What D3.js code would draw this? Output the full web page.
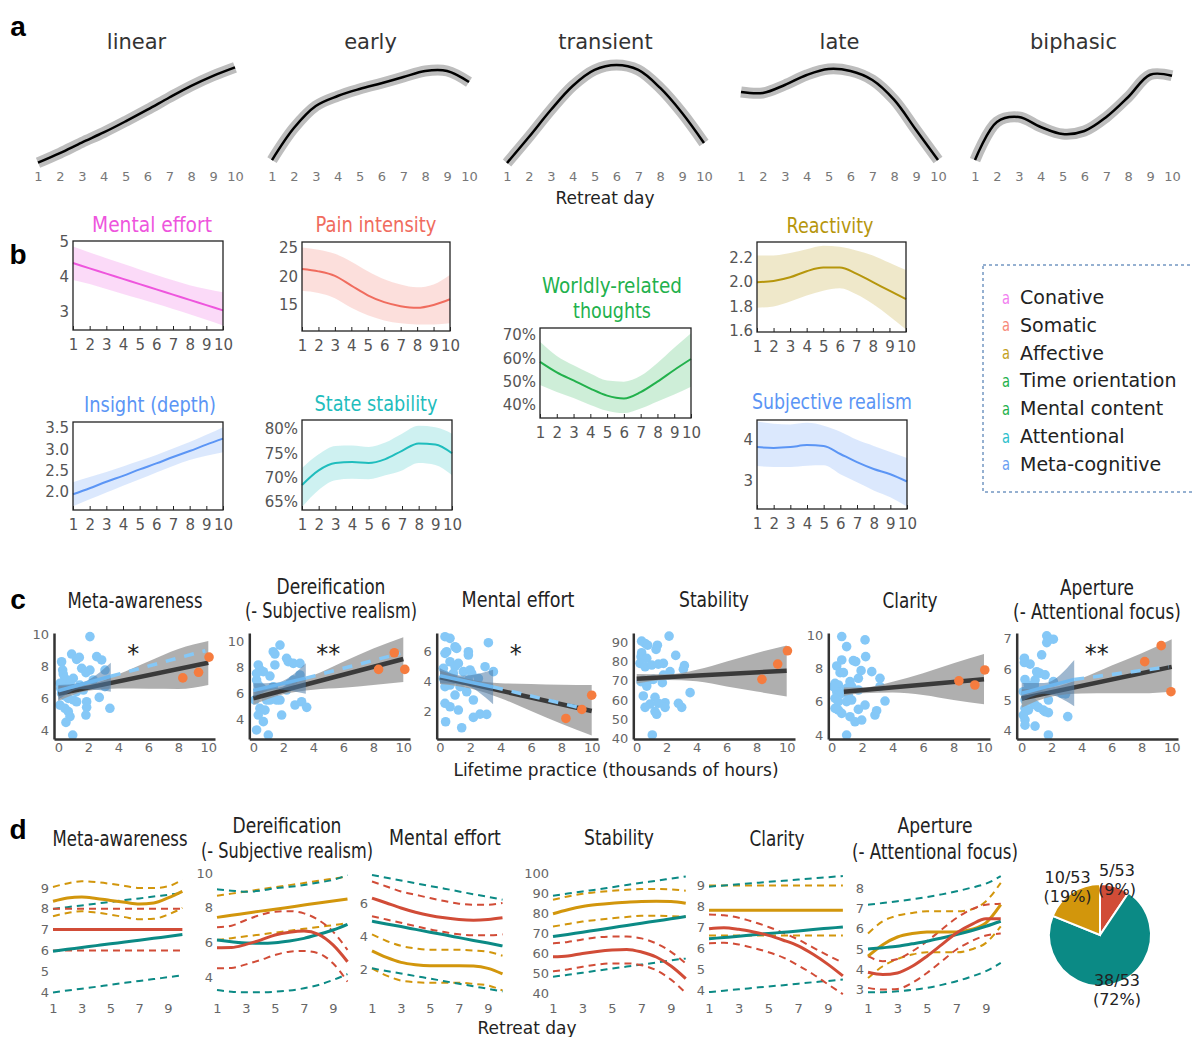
<!DOCTYPE html>
<html><head><meta charset="utf-8">
<script src="https://cdn.jsdelivr.net/npm/d3@7"></script>
<style>body{margin:0;background:#fff}</style>
</head><body><script>
// ================= DATA =================
const DAYS = [1,2,3,4,5,6,7,8,9,10];
// Panel a (normalised trajectory shapes)
const aTitles = ["linear","early","transient","late","biphasic"];
const aLinear = [0.05,0.14,0.24,0.335,0.44,0.55,0.665,0.775,0.87,0.95];
const aEarly = [0.075,0.377,0.585,0.679,0.745,0.80,0.858,0.915,0.915,0.811];
const aTransient = [0.047,0.292,0.547,0.774,0.925,0.972,0.925,0.755,0.519,0.236];
const aLate = [0.717,0.708,0.783,0.877,0.934,0.915,0.83,0.642,0.358,0.075];
const aBiphasic = [0.075,0.434,0.481,0.387,0.321,0.349,0.481,0.67,0.88,0.87];

// Panel b
const bMentalMean = [4.4,4.25,4.1,3.95,3.8,3.65,3.5,3.35,3.2,3.05];
const bMentalHi = [4.87,4.7,4.54,4.38,4.22,4.06,3.91,3.77,3.66,3.57];
const bMentalLo = [3.92,3.8,3.66,3.52,3.38,3.24,3.09,2.94,2.78,2.62];
const bPainMean = [21.3,20.9,20.1,18.4,16.7,15.5,14.8,14.5,15,16];
const bPainHi = [25.1,24.7,24,22.6,20.9,19.5,18.6,18.1,18.6,20.3];
const bPainLo = [17.5,17.1,16.2,14.5,13.2,12.3,11.8,11.6,11.6,11.8];
const bInsightMean = [1.95,2.09,2.24,2.38,2.53,2.67,2.82,2.96,3.11,3.25];
const bInsightHi = [2.23,2.35,2.47,2.6,2.73,2.87,3.02,3.17,3.34,3.52];
const bInsightLo = [1.67,1.83,1.99,2.15,2.3,2.46,2.61,2.75,2.85,2.93];
const bStateMean = [68.5,71.5,73,73.2,73,73.8,75.5,77,76.8,75];
const bStateHi = [72,74.8,76.5,76.6,76.3,77.2,79,80.6,80.3,79];
const bStateLo = [64,67.5,69.5,69.8,69.7,70.5,71.5,73,72.6,70.5];
const bWorldlyMean = [58.5,54,50.5,47,44,42.8,45.5,50,55,59.7];
const bWorldlyHi = [67.1,61,57,53.5,50.5,50,52.5,58,64.5,70.7];
const bWorldlyLo = [48.5,45.5,43,40,37.5,36.5,38.5,41.5,44.5,47.8];
const bReactMean = [2.0,2.01,2.04,2.09,2.12,2.12,2.07,2.0,1.93,1.86];
const bReactHi = [2.22,2.22,2.24,2.27,2.3,2.29,2.26,2.22,2.16,2.1];
const bReactLo = [1.79,1.8,1.84,1.89,1.93,1.95,1.9,1.82,1.72,1.61];
const bSubjMean = [3.82,3.8,3.82,3.87,3.85,3.65,3.45,3.28,3.15,2.97];
const bSubjHi = [4.45,4.4,4.38,4.42,4.35,4.2,4.0,3.85,3.7,3.55];
const bSubjLo = [3.35,3.33,3.33,3.36,3.37,3.15,2.95,2.75,2.58,2.35];
const legendLabels = ["Conative","Somatic","Affective","Time orientation","Mental content","Attentional","Meta-cognitive"];

// Panel c: scatter [hours (thousands), score]
const cMetaBlue = [[2.11,9.88],[0.22,8.31],[0.89,8.79],[1.22,8.46],[1.4,8.58],[2.56,8.63],[2.89,8.42],[1.56,7.9],[2.11,7.79],[1.84,7.63],[0.29,7.79],[0.33,7.54],[0.44,7.27],[3.11,7.79],[0.78,6.96],[0.11,6.96],[0.56,6.75],[1.44,6.85],[3.11,6.75],[1.22,6.44],[0.22,6.33],[0.44,6.17],[1.89,5.81],[1.89,5.46],[1.84,4.98],[2.73,6.08],[3.44,5.4],[0.11,5.6],[0.44,5.4],[0.67,5.19],[0.78,4.88],[0.51,4.52],[0.96,3.73],[1.0,5.92],[1.22,5.81],[1.67,6.54],[0.67,6.02],[0.16,6.65],[1.0,7.27],[2.33,7.17]];
const cMetaOrange = [[8.3,7.3],[9.35,7.65],[10.05,8.6]];
const cDerBlue = [[1.78,9.74],[1.33,9.23],[1.44,9.05],[2.22,8.72],[2.33,8.46],[2.67,8.33],[3.11,8.33],[1.44,8.21],[0.33,8.21],[0.44,7.87],[0.67,7.69],[1.11,7.36],[0.22,7.05],[0.33,6.67],[0.56,6.41],[0.44,6.03],[0.11,5.51],[1.33,5.9],[1.78,5.51],[2.22,6.28],[1.11,5.51],[1.56,5.51],[0.89,5.51],[0.44,4.87],[0.78,4.74],[0.33,4.36],[0.67,3.85],[0.22,3.21],[1.0,2.82],[2.78,5.13],[3.22,5.38],[3.56,4.95],[1.89,4.36],[3.11,7.44],[2.44,6.79],[0.89,6.15],[1.33,6.54],[0.22,7.56],[2.67,7.05]];
const cDerOrange = [[8.35,7.87],[9.4,9.15],[10.1,7.87]];
const cEffBlue = [[0.33,7.0],[0.66,6.89],[0.44,6.0],[0.99,6.33],[1.1,6.22],[1.87,6.0],[1.87,5.78],[3.19,6.6],[0.33,5.89],[0.66,5.33],[1.21,5.22],[0.22,4.89],[0.99,5.0],[0.33,4.44],[0.88,4.56],[1.54,4.67],[1.98,4.78],[2.97,5.0],[3.52,4.67],[0.22,4.22],[0.55,4.11],[1.43,4.0],[1.87,4.11],[0.33,3.67],[0.66,3.78],[1.32,3.67],[1.76,3.33],[2.2,2.78],[0.99,3.11],[0.33,2.56],[0.66,2.33],[1.21,2.11],[2.2,1.62],[2.64,1.84],[3.08,1.82],[0.37,1.33],[1.43,0.93],[2.09,4.56],[2.53,4.22]];
const cEffOrange = [[8.3,1.55],[9.35,2.15],[10.0,3.1]];
const cStabBlue = [[2.16,93.1],[0.33,90.5],[0.56,89.3],[0.73,88.4],[1.38,88.4],[1.29,86.2],[0.33,84.5],[0.29,82.4],[0.67,81.6],[0.22,79.0],[0.56,77.2],[1.0,78.1],[1.44,78.6],[1.78,79.0],[2.6,83.1],[3.18,77.8],[3.11,75.9],[2.22,74.7],[2.11,72.9],[1.78,72.9],[0.29,69.5],[0.56,69.5],[0.82,70.3],[1.11,70.7],[0.67,67.2],[1.71,69.0],[0.44,62.1],[1.22,61.4],[0.56,56.2],[0.89,57.9],[1.89,58.6],[1.89,56.2],[1.44,58.3],[1.22,54.0],[1.33,52.6],[2.78,58.3],[3.0,56.2],[3.56,63.8],[1.04,41.9],[0.44,70.3]];
const cStabOrange = [[8.35,70.7],[9.4,78.6],[10.05,85.5]];
const cClarBlue = [[0.66,9.9],[2.19,9.7],[0.98,9.3],[2.23,8.7],[0.66,8.5],[1.42,8.46],[1.58,8.4],[0.33,8.14],[0.55,7.74],[0.77,7.74],[1.93,7.86],[2.63,7.8],[3.17,7.4],[3.17,6.9],[1.75,7.4],[1.2,7.2],[0.22,7.1],[0.44,7.0],[0.98,6.8],[1.31,6.9],[0.33,6.6],[0.66,6.5],[1.09,6.4],[1.75,6.7],[0.22,6.2],[0.44,6.0],[0.98,6.0],[1.31,6.1],[2.19,5.8],[1.75,5.54],[0.44,5.5],[0.66,5.3],[1.2,5.1],[1.53,4.8],[1.97,4.9],[2.84,5.2],[2.95,5.46],[3.5,6.04],[0.98,4.0],[0.22,5.6],[0.11,6.9]];
const cClarOrange = [[8.35,7.25],[9.4,7.0],[10.05,7.9]];
const cApBlue = [[1.67,7.09],[1.89,6.98],[2.11,6.98],[1.67,6.87],[0.18,6.36],[0.18,6.22],[0.56,6.17],[1.33,6.47],[1.0,5.92],[1.22,5.87],[1.56,5.82],[0.22,5.67],[0.89,5.65],[0.44,5.49],[2.11,5.6],[0.11,5.27],[0.62,5.33],[1.11,5.24],[2.67,5.22],[1.78,5.0],[0.22,5.0],[0.67,4.95],[0.89,4.84],[0.22,4.73],[0.44,4.67],[1.11,4.76],[1.44,4.67],[0.11,4.51],[0.22,4.35],[0.22,4.18],[0.89,4.15],[1.56,4.62],[1.78,4.59],[3.07,4.46],[2.93,5.2],[1.78,3.86],[0.84,5.49]];
const cApOrange = [[8.2,6.25],[9.3,6.77],[9.95,5.27]];
// regression fits [x,y] and confidence bands
const cBandX = [0,2,4,6,8,10];
const cClarBandX = [0.8,2,4,6,8,10];
const cBlueBandX = [0,1.5,3.5];
const cMetaFit = [[0,6.3],[10,8.25]];
const cMetaBandHi = [6.8,6.89,7.53,8.32,9.11,9.6];
const cMetaBandLo = [5.85,6.49,6.63,6.62,6.61,6.86];
const cMetaBlueFit = [[0,6.5],[3.5,7.4]];
const cMetaBlueHi = [6.85,7.0,8.25];
const cMetaBlueLo = [5.92,6.6,6.44];
const cMetaDash = [[3.5,7.4],[9.8,9.0]];
const cDerFit = [[0,5.65],[10,8.67]];
const cDerBandHi = [6.15,6.55,7.41,8.46,9.47,10.35];
const cDerBandLo = [5.15,5.95,6.31,6.46,6.67,6.9];
const cDerBlueFit = [[0,6.25],[3.5,7.2]];
const cDerBlueHi = [6.8,6.85,8.35];
const cDerBlueLo = [5.7,6.35,6.0];
const cDerDash = [[3.5,7.2],[9.8,9.1]];
const cEffFit = [[0,4.3],[10,2.05]];
const cEffBandHi = [4.75,4.15,3.9,3.85,3.8,3.78];
const cEffBandLo = [3.85,3.55,2.9,2.05,1.2,0.42];
const cEffBlueFit = [[0,4.4],[3.5,3.65]];
const cEffBlueHi = [4.9,4.4,4.8];
const cEffBlueLo = [3.9,3.8,2.5];
const cEffDash = [[3.5,3.65],[9.5,2.2]];
const cStabFit = [[0,71],[10,75.2]];
const cStabBandHi = [73.5,73.3,75.7,80,84.4,88.3];
const cStabBandLo = [68.5,70.3,69.7,67,64.4,61.8];
const cClarFit = [[0.8,6.6],[10,7.35]];
const cClarBandHi = [6.85,6.85,7.2,7.7,8.3,8.85];
const cClarBandLo = [6.35,6.5,6.55,6.4,6.1,5.85];
const cApFit = [[0,5.05],[10,6.08]];
const cApBandHi = [5.35,5.41,5.71,6.12,6.52,6.98];
const cApBandLo = [4.75,5.11,5.21,5.22,5.22,5.28];
const cApBlueFit = [[0,5.22],[3.5,5.67]];
const cApBlueHi = [5.55,5.55,6.3];
const cApBlueLo = [4.95,5.2,4.8];
const cApDash = [[3.5,5.67],[9.8,6.08]];

// Panel d: trajectories per cluster (gold / teal / red), mean with bounds
const dMetaGold = [8.36,8.52,8.57,8.5,8.4,8.31,8.23,8.28,8.52,8.84];
const dMetaGoldHi = [9.05,9.22,9.32,9.28,9.2,9.1,9.0,9.0,9.08,9.4];
const dMetaGoldLo = [7.64,7.8,7.88,7.82,7.72,7.6,7.5,7.52,7.72,8.04];
const dMetaTeal = [5.96,6.05,6.14,6.23,6.32,6.4,6.49,6.58,6.67,6.76];
const dMetaTealHi = [7.99,8.08,8.16,8.25,8.33,8.42,8.5,8.59,8.67,8.76];
const dMetaTealLo = [3.98,4.07,4.16,4.25,4.35,4.44,4.53,4.62,4.71,4.8];
const dMetaRed = [7,7,7,7,7,7,7,7,7,7];
const dMetaRedHi = [8,8,8,8,8,8,8,8,8,8];
const dMetaRedLo = [6,6,6,6,6,6,6,6,6,6];
const dDerGold = [7.44,7.56,7.68,7.8,7.91,8.03,8.15,8.27,8.38,8.5];
const dDerGoldHi = [8.69,8.81,8.93,9.06,9.18,9.3,9.42,9.55,9.67,9.79];
const dDerGoldLo = [6.13,6.24,6.35,6.45,6.56,6.67,6.78,6.88,6.99,7.1];
const dDerTeal = [6.13,6.04,5.96,5.95,5.98,6.08,6.23,6.46,6.71,7.04];
const dDerTealHi = [9.06,8.98,8.92,8.98,9.12,9.2,9.31,9.45,9.6,9.88];
const dDerTealLo = [3.25,3.15,3.12,3.12,3.15,3.22,3.35,3.54,3.83,4.17];
const dDerRed = [5.69,5.7,5.88,6.13,6.42,6.58,6.65,6.46,5.85,4.88];
const dDerRedHi = [6.87,6.96,7.29,7.58,7.77,7.8,7.67,7.29,6.62,5.56];
const dDerRedLo = [4.5,4.52,4.73,4.98,5.27,5.46,5.5,5.37,4.79,3.73];
const dEffGold = [3.1,2.7,2.4,2.26,2.2,2.2,2.2,2.18,2.04,1.7];
const dEffGoldHi = [4.1,3.7,3.4,3.25,3.16,3.16,3.16,3.12,3.04,2.8];
const dEffGoldLo = [2.04,1.6,1.3,1.2,1.16,1.16,1.16,1.1,1.0,0.7];
const dEffTeal = [4.9,4.73,4.57,4.4,4.23,4.07,3.9,3.73,3.57,3.4];
const dEffTealHi = [7.7,7.53,7.37,7.2,7.03,6.87,6.7,6.53,6.37,6.2];
const dEffTealLo = [2.04,1.88,1.73,1.57,1.42,1.26,1.11,0.95,0.8,0.64];
const dEffRed = [6.3,6.0,5.7,5.44,5.24,5.1,5.0,4.96,5.0,5.1];
const dEffRedHi = [7.3,7.0,6.7,6.5,6.3,6.12,5.96,5.9,5.9,6.0];
const dEffRedLo = [5.2,5.0,4.8,4.6,4.4,4.24,4.1,4.05,4.04,4.1];
const dStabGold = [79.6,81.6,83.2,84.2,84.9,85.4,85.8,85.9,85.8,84.9];
const dStabGoldHi = [86.6,88.3,89.6,90.5,91.1,91.6,92,92,91.8,91.1];
const dStabGoldLo = [73.2,74.5,75.7,76.6,77.4,78,78.6,78.6,78.4,78.2];
const dStabTeal = [68.2,69.3,70.4,71.5,72.6,73.8,74.9,76,77.1,78.2];
const dStabTealHi = [88.6,89.7,90.8,91.8,92.9,94,95.1,96.1,97.2,98.3];
const dStabTealLo = [48.1,49.1,50.1,51.2,52.2,53.2,54.2,55.2,56.3,57.3];
const dStabRed = [58.1,58.5,59.8,60.8,61.5,61.8,60.5,58,53.5,47.2];
const dStabRedHi = [64.8,65.5,66.8,67.8,68.2,68.2,67.3,64.8,60.6,54.8];
const dStabRedLo = [50.9,51.8,53.1,54.2,54.8,54.8,53.9,51.4,46.7,40];
const dClarGold = [7.8,7.8,7.8,7.8,7.8,7.8,7.8,7.8,7.8,7.8];
const dClarGoldHi = [8.98,8.98,8.98,8.98,8.98,8.98,8.98,8.98,8.98,8.98];
const dClarGoldLo = [6.6,6.6,6.6,6.6,6.6,6.6,6.6,6.6,6.6,6.6];
const dClarTeal = [6.44,6.5,6.56,6.63,6.69,6.75,6.81,6.88,6.94,7.0];
const dClarTealHi = [8.92,8.98,9.03,9.09,9.15,9.2,9.26,9.32,9.37,9.43];
const dClarTealLo = [3.9,3.97,4.03,4.1,4.17,4.23,4.3,4.37,4.43,4.5];
const dClarRed = [6.92,6.97,6.89,6.76,6.6,6.37,6.1,5.7,5.22,4.67];
const dClarRedHi = [7.6,7.56,7.44,7.24,7.0,6.72,6.4,6.02,5.64,5.3];
const dClarRedLo = [6.22,6.25,6.17,6.0,5.8,5.54,5.17,4.75,4.27,3.8];
const dApGold = [4.64,5.21,5.59,5.76,5.84,5.84,5.84,5.96,6.29,7.19];
const dApGoldHi = [5.76,6.37,6.65,6.78,6.86,6.86,6.86,6.95,7.36,8.27];
const dApGoldLo = [3.56,4.14,4.5,4.72,4.83,4.83,4.83,4.97,5.3,6.12];
const dApTeal = [5.0,5.06,5.13,5.25,5.38,5.54,5.71,5.9,6.12,6.37];
const dApTealHi = [7.19,7.27,7.36,7.46,7.57,7.7,7.85,8.03,8.23,8.6];
const dApTealLo = [2.85,2.86,2.9,2.97,3.07,3.22,3.4,3.63,3.9,4.31];
const dApRed = [3.84,3.73,3.81,4.14,4.64,5.21,5.79,6.2,6.49,6.49];
const dApRedHi = [4.64,4.39,4.5,4.88,5.38,5.96,6.53,6.95,7.19,7.24];
const dApRedLo = [3.07,2.99,3.02,3.32,3.81,4.39,4.97,5.38,5.66,5.76];
const pieCounts = [5,38,10];
const pieLabels = [["5/53","(9%)"],["38/53","(72%)"],["10/53","(19%)"]];

// ================= DRAWING =================
const W=1193,H=1037;
const svg=d3.select("body").append("svg").attr("width",W).attr("height",H);
const SANS="DejaVu Sans, sans-serif";
function label(x,y,t,o={}){
  const el=svg.append("text").attr("x",x).attr("y",y)
   .attr("text-anchor",o.anchor||"middle").attr("dominant-baseline",o.base||"central")
   .attr("font-size",o.size||13).attr("font-family",o.family||SANS)
   .attr("font-weight",o.weight||"normal").attr("fill",o.fill||"#222").text(t);
  if(o.len){
    // condense horizontally to the reference width (narrow title face)
    const nat=el.node().getComputedTextLength();
    const sx=Math.min(1,o.len/nat);
    el.attr("x",0).attr("y",0).attr("transform",`translate(${x},${y}) scale(${sx},1)`);
  }
  return el;
}
function styleAxis(a,size,fill){
  a.selectAll("text").attr("font-size",size).attr("fill",fill).attr("font-family",SANS);
}
function scaleFrom(v1,p1,v2,p2,lo,hi){
  const s=d3.scaleLinear().domain([v1,v2]).range([p1,p2]);
  return d3.scaleLinear().domain([s.invert(lo),s.invert(hi)]).range([lo,hi]);
}
const INT=d3.format("d");
// panel letters
[["a",18,26],["b",18,254],["c",18,599],["d",18,829]].forEach(([t,x,y])=>label(x,y,t,{size:28,weight:"bold",family:"Liberation Sans, Arial, sans-serif",fill:"#000"}));

// ---- Panel a ----
const aSeries=[aLinear,aEarly,aTransient,aLate,aBiphasic];
const aLeft=[38,272,507,741,975];
aSeries.forEach((vals,i)=>{
  const g=svg.append("g");
  const x=d3.scaleLinear().domain([1,10]).range([aLeft[i],aLeft[i]+197]);
  const y=d3.scaleLinear().domain([0,1]).range([168,62]);
  const line=d3.line().x((d,j)=>x(DAYS[j])).y(d=>y(d)).curve(d3.curveCatmullRom);
  g.append("path").attr("d",line(vals)).attr("fill","none").attr("stroke","#bdbdbd").attr("stroke-width",11);
  g.append("path").attr("d",line(vals)).attr("fill","none").attr("stroke","#000").attr("stroke-width",2.5);
  label(x(5.5),42,aTitles[i],{size:21,fill:"#333"});
  const ax=g.append("g").attr("transform","translate(0,172)").call(d3.axisBottom(x).tickValues(DAYS).tickSize(0).tickPadding(0));
  ax.select(".domain").remove();
  styleAxis(ax,13,"#777");
});
label(605,198,"Retreat day",{size:17});

// ---- Panel b ----
const bPanels=[
 {t:["Mental effort"],w:[120],tx:152,ty:224,c:"#ee55dd",x0:73,x1:223,y0:241,y1:330,dom:[2.49,5.03],ticks:[3,4,5],f:INT,m:bMentalMean,hi:bMentalHi,lo:bMentalLo},
 {t:["Pain intensity"],w:[121],tx:376,ty:224,c:"#f06c5e",x0:302,x1:450,y0:242,y1:331,dom:[10.44,26.05],ticks:[15,20,25],f:INT,m:bPainMean,hi:bPainHi,lo:bPainLo},
 {t:["Insight (depth)"],w:[132],tx:150,ty:404,c:"#5b95f5",x0:73,x1:223,y0:422,y1:510,dom:[1.58,3.64],ticks:[2,2.5,3,3.5],f:d3.format(".1f"),m:bInsightMean,hi:bInsightHi,lo:bInsightLo},
 {t:["State stability"],w:[123],tx:376,ty:403,c:"#1fbdbd",x0:302,x1:452,y0:420,y1:510,dom:[63.4,81.8],ticks:[65,70,75,80],f:d=>d+"%",m:bStateMean,hi:bStateHi,lo:bStateLo},
 {t:["Worldly-related","thoughts"],w:[140,78],tx:612,ty:285,c:"#22b14c",x0:540,x1:691,y0:328,y1:418,dom:[34.4,73],ticks:[40,50,60,70],f:d=>d+"%",m:bWorldlyMean,hi:bWorldlyHi,lo:bWorldlyLo},
 {t:["Reactivity"],w:[87],tx:830,ty:226,c:"#b6960c",x0:757,x1:906,y0:242,y1:332,dom:[1.59,2.33],ticks:[1.6,1.8,2.0,2.2],f:d3.format(".1f"),m:bReactMean,hi:bReactHi,lo:bReactLo},
 {t:["Subjective realism"],w:[160],tx:832,ty:402,c:"#5b95f5",x0:757,x1:907,y0:420,y1:509,dom:[2.29,4.49],ticks:[3,4],f:INT,m:bSubjMean,hi:bSubjHi,lo:bSubjLo}
];
bPanels.forEach(p=>{
  const g=svg.append("g");
  const x=d3.scaleLinear().domain([1,10]).range([p.x0,p.x1]);
  const y=d3.scaleLinear().domain(p.dom).range([p.y1,p.y0]);
  const area=d3.area().x((d,j)=>x(DAYS[j])).y0((d,j)=>y(p.lo[j])).y1((d,j)=>y(p.hi[j])).curve(d3.curveMonotoneX);
  g.append("path").attr("d",area(p.m)).attr("fill",p.c).attr("opacity",0.22);
  g.append("path").attr("d",d3.line().x((d,j)=>x(DAYS[j])).y(d=>y(d)).curve(d3.curveMonotoneX)(p.m)).attr("fill","none").attr("stroke",p.c).attr("stroke-width",2);
  g.append("rect").attr("x",p.x0).attr("y",p.y0).attr("width",p.x1-p.x0).attr("height",p.y1-p.y0).attr("fill","none").attr("stroke","#222").attr("stroke-width",1.3);
  const ax=g.append("g").attr("transform",`translate(0,${p.y1})`).call(d3.axisBottom(x).tickValues(DAYS).tickSizeInner(-4).tickSizeOuter(0).tickPadding(9));
  ax.select(".domain").remove(); ax.selectAll("line").attr("stroke","#222");
  styleAxis(ax,15,"#555");
  const ay=g.append("g").attr("transform",`translate(${p.x0},0)`).call(d3.axisLeft(y).tickValues(p.ticks).tickFormat(p.f).tickSize(0).tickPadding(4));
  ay.select(".domain").remove();
  styleAxis(ay,15,"#555");
  p.t.forEach((s,k)=>label(p.tx,p.ty+k*26,s,{size:22,fill:p.c,len:p.w[k]}));
});
// legend
const legColors=["#f27ef0","#f7897a","#c4a11e","#22b14c","#22b14c","#2bc0cc","#6aa0f2"];
svg.append("rect").attr("x",983).attr("y",265).attr("width",240).attr("height",227).attr("fill","none").attr("stroke","#2d62a3").attr("stroke-width",1).attr("stroke-dasharray","3,3");
legendLabels.forEach((s,i)=>{
  const yy=297+i*27.8;
  label(1006,yy+1,"a",{size:17,fill:legColors[i],len:8});
  label(1020,yy,s,{size:19,anchor:"start",fill:"#222"});
});

// ---- Panel c ----
const cPanels=[
 {t:["Meta-awareness"],w:[135],tx:135,blue:cMetaBlue,orange:cMetaOrange,fit:cMetaFit,bx:cBandX,bhi:cMetaBandHi,blo:cMetaBandLo,bfit:cMetaBlueFit,bbhi:cMetaBlueHi,bblo:cMetaBlueLo,dash:cMetaDash,star:"*",ticks:[4,6,8,10],L:54,x0:58.3,x10:208.3,yr:[8,666.7,6,698.7],R:215},
 {t:["Dereification","(- Subjective realism)"],w:[109,172],tx:331,blue:cDerBlue,orange:cDerOrange,fit:cDerFit,bx:cBandX,bhi:cDerBandHi,blo:cDerBandLo,bfit:cDerBlueFit,bbhi:cDerBlueHi,bblo:cDerBlueLo,dash:cDerDash,star:"**",ticks:[4,6,8,10],L:249.3,x0:253.3,x10:403.3,yr:[8,667.7,6,693.7],R:410},
 {t:["Mental effort"],w:[113],tx:518,blue:cEffBlue,orange:cEffOrange,fit:cEffFit,bx:cBandX,bhi:cEffBandHi,blo:cEffBandLo,bfit:cEffBlueFit,bbhi:cEffBlueHi,bblo:cEffBlueLo,dash:cEffDash,star:"*",ticks:[2,4,6],L:436.7,x0:440,x10:591.7,yr:[4,681.7,2,711.7],R:598},
 {t:["Stability"],w:[70],tx:714,blue:cStabBlue,orange:cStabOrange,fit:cStabFit,bx:cBandX,bhi:cStabBandHi,blo:cStabBandLo,bfit:null,dash:null,star:null,ticks:[40,50,60,70,80,90],L:633.3,x0:636.7,x10:786.7,yr:[70,680.7,60,700],R:795},
 {t:["Clarity"],w:[55],tx:910,blue:cClarBlue,orange:cClarOrange,fit:cClarFit,bx:cClarBandX,bhi:cClarBandHi,blo:cClarBandLo,bfit:null,dash:null,star:null,ticks:[4,6,8,10],L:828.3,x0:831.7,x10:984,yr:[8,668.3,6,701.7],R:990},
 {t:["Aperture","(- Attentional focus)"],w:[74,168],tx:1097,blue:cApBlue,orange:cApOrange,fit:cApFit,bx:cBandX,bhi:cApBandHi,blo:cApBandLo,bfit:cApBlueFit,bbhi:cApBlueHi,bblo:cApBlueLo,dash:cApDash,star:"**",ticks:[4,5,6,7],L:1016.7,x0:1021.7,x10:1171.7,yr:[5,700,4,730.7],R:1178}
];
cPanels.forEach(p=>{
  const g=svg.append("g");
  const x=scaleFrom(0,p.x0,10,p.x10,p.L,p.R);
  const y=scaleFrom(p.yr[0],p.yr[1],p.yr[2],p.yr[3],739,633);
  g.selectAll("circle.b").data(p.blue).join("circle").attr("cx",d=>x(d[0])).attr("cy",d=>y(d[1])).attr("r",4.8).attr("fill","#85c8f7");
  const band=d3.area().x(d=>x(d[0])).y0(d=>y(d[1])).y1(d=>y(d[2])).curve(d3.curveMonotoneX);
  g.append("path").attr("d",band(p.bx.map((v,j)=>[v,p.blo[j],p.bhi[j]]))).attr("fill","#999").attr("opacity",0.78);
  const ln=d3.line().x(d=>x(d[0])).y(d=>y(d[1]));
  g.append("path").attr("d",ln(p.fit)).attr("stroke","#3a3a3a").attr("stroke-width",4.5).attr("fill","none");
  if(p.bfit){
    g.append("path").attr("d",band(cBlueBandX.map((v,j)=>[v,p.bblo[j],p.bbhi[j]]))).attr("fill","#4e7ca8").attr("opacity",0.55);
    g.append("path").attr("d",ln(p.bfit)).attr("stroke","#6db6ee").attr("stroke-width",3.5).attr("fill","none");
    g.append("path").attr("d",ln(p.dash)).attr("stroke","#85c8f7").attr("stroke-width",3.5).attr("stroke-dasharray","10,9").attr("fill","none");
  }
  g.selectAll("circle.o").data(p.orange).join("circle").attr("cx",d=>x(d[0])).attr("cy",d=>y(d[1])).attr("r",4.8).attr("fill","#f57c3f");
  const ax=g.append("g").attr("transform","translate(0,739)").call(d3.axisBottom(x).tickValues([0,2,4,6,8,10]).tickFormat(INT).tickSizeInner(0).tickSizeOuter(0).tickPadding(4));
  ax.select(".domain").attr("stroke","#333").attr("stroke-width",2.5);
  styleAxis(ax,13,"#666");
  const ay=g.append("g").attr("transform",`translate(${p.L},0)`).call(d3.axisLeft(y).tickValues(p.ticks).tickFormat(INT).tickSizeInner(0).tickSizeOuter(0).tickPadding(5));
  ay.select(".domain").attr("stroke","#333").attr("stroke-width",2.5);
  styleAxis(ay,13,"#666");
  if(p.star) label(x(5),662,p.star,{size:24,base:"alphabetic",fill:"#222"});
  if(p.t.length===1) label(p.tx,600,p.t[0],{size:21,len:p.w[0]});
  else p.t.forEach((s,k)=>label(p.tx,587+k*24,s,{size:21,len:p.w[k]}));
});
label(616,770,"Lifetime practice (thousands of hours)",{size:17});

// ---- Panel d ----
const GOLD="#d2960c",TEAL="#0b8a85",RED="#d14c37";
const dPanels=[
 {t:["Meta-awareness"],w:[135],tx:120,x1:53,x9:168,yr:[9,888,4,992],ticks:[4,5,6,7,8,9],s:[[dMetaGold,dMetaGoldHi,dMetaGoldLo],[dMetaTeal,dMetaTealHi,dMetaTealLo],[dMetaRed,dMetaRedHi,dMetaRedLo]]},
 {t:["Dereification","(- Subjective realism)"],w:[109,172],tx:287,x1:217,x9:333,yr:[10,873,4,977],ticks:[4,6,8,10],s:[[dDerGold,dDerGoldHi,dDerGoldLo],[dDerTeal,dDerTealHi,dDerTealLo],[dDerRed,dDerRedHi,dDerRedLo]]},
 {t:["Mental effort"],w:[112],tx:445,x1:372,x9:488,yr:[6,903,2,969],ticks:[2,4,6],s:[[dEffGold,dEffGoldHi,dEffGoldLo],[dEffTeal,dEffTealHi,dEffTealLo],[dEffRed,dEffRedHi,dEffRedLo]]},
 {t:["Stability"],w:[70],tx:619,x1:553,x9:671,yr:[100,873,40,993],ticks:[40,50,60,70,80,90,100],s:[[dStabGold,dStabGoldHi,dStabGoldLo],[dStabTeal,dStabTealHi,dStabTealLo],[dStabRed,dStabRedHi,dStabRedLo]]},
 {t:["Clarity"],w:[55],tx:777,x1:709,x9:828,yr:[9,885,4,990],ticks:[4,5,6,7,8,9],s:[[dClarGold,dClarGoldHi,dClarGoldLo],[dClarTeal,dClarTealHi,dClarTealLo],[dClarRed,dClarRedHi,dClarRedLo]]},
 {t:["Aperture","(- Attentional focus)"],w:[75,166],tx:935,x1:868,x9:986,yr:[8,888.3,3,989.3],ticks:[3,4,5,6,7,8],s:[[dApGold,dApGoldHi,dApGoldLo],[dApTeal,dApTealHi,dApTealLo],[dApRed,dApRedHi,dApRedLo]]}
];
const dCols=[GOLD,TEAL,RED];
dPanels.forEach(p=>{
  const g=svg.append("g");
  const x=d3.scaleLinear().domain([1,9]).range([p.x1,p.x9]);
  const y=d3.scaleLinear().domain([p.yr[0],p.yr[2]]).range([p.yr[1],p.yr[3]]);
  const ln=d3.line().x((d,j)=>x(DAYS[j])).y(d=>y(d)).curve(d3.curveMonotoneX);
  p.s.forEach((arr,k)=>{
    [arr[1],arr[2]].forEach(b=>g.append("path").attr("d",ln(b)).attr("fill","none").attr("stroke",dCols[k]).attr("stroke-width",2).attr("stroke-dasharray","7,5"));
  });
  p.s.forEach((arr,k)=>g.append("path").attr("d",ln(arr[0])).attr("fill","none").attr("stroke",dCols[k]).attr("stroke-width",3));
  const ax=g.append("g").attr("transform","translate(0,1000)").call(d3.axisBottom(x).tickValues([1,3,5,7,9]).tickFormat(INT).tickSize(0).tickPadding(4));
  ax.select(".domain").remove(); styleAxis(ax,13,"#666");
  const ay=g.append("g").attr("transform",`translate(${p.x1},0)`).call(d3.axisLeft(y).tickValues(p.ticks).tickFormat(INT).tickSize(0).tickPadding(4));
  ay.select(".domain").remove(); styleAxis(ay,13,"#666");
  if(p.t.length===1) label(p.tx,838,p.t[0],{size:21,len:p.w[0]});
  else p.t.forEach((s,k)=>label(p.tx,826+k*25,s,{size:21,len:p.w[k]}));
});
label(527,1028,"Retreat day",{size:17});

// pie
const pie=d3.pie().sort(null)(pieCounts);
const arc=d3.arc().innerRadius(0).outerRadius(51);
const labArc=d3.arc().innerRadius(58).outerRadius(58);
const pg=svg.append("g").attr("transform","translate(1100,935)");
pg.selectAll("path").data(pie).join("path").attr("d",arc).attr("fill",(d,i)=>[RED,TEAL,GOLD][i]).attr("stroke","#fff").attr("stroke-width",2);
pie.forEach((d,i)=>{
  const [cx,cy]=labArc.centroid(d);
  label(1100+cx,935+cy-9.5,pieLabels[i][0],{size:16});
  label(1100+cx,935+cy+9.5,pieLabels[i][1],{size:16});
});
</script></body></html>
